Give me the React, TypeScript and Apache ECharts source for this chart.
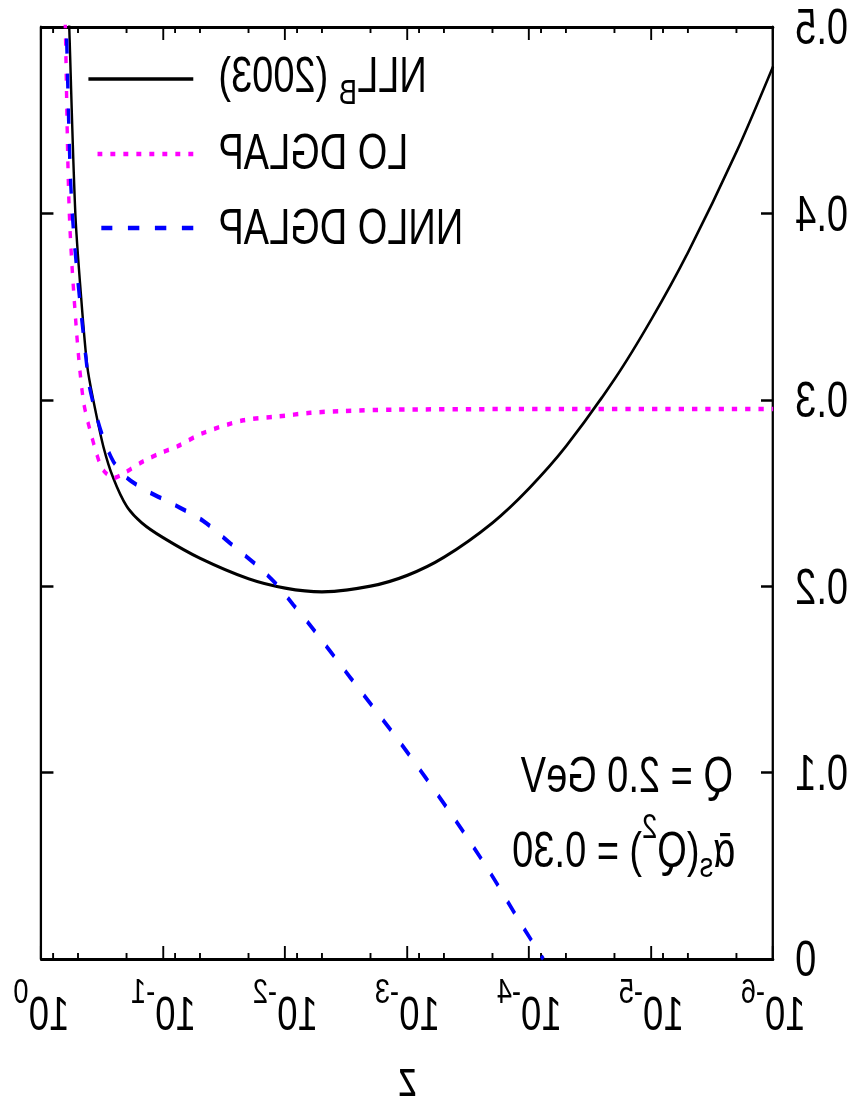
import React, { useEffect, useRef } from 'react';
import * as echarts from 'echarts';

const FONT = '"Liberation Sans", Arial, Helvetica, sans-serif';

// Horizontal squeeze and page mirroring of the drawn figure
const SQUEEZE = 0.76;
const PAGE_W = 856;
const CHART_W = 1126;
const CHART_H = 1109;

// NLL_B (2003)
const nllZ = [0.624, 0.59, 0.526, 0.47, 0.42, 0.375, 0.31, 0.257, 0.2, 0.15, 0.1, 0.05, 0.02, 0.01, 5e-3, 2e-3, 1e-3, 5e-4, 2e-4, 1e-4, 5e-5, 2e-5, 1e-5, 5e-6, 2e-6, 1e-6];
const nllVal = [0.55, 0.5, 0.4, 0.354, 0.318, 0.3, 0.275, 0.258, 0.243, 0.234, 0.226, 0.215, 0.204, 0.199, 0.197, 0.2, 0.2058, 0.2155, 0.234, 0.2526, 0.275, 0.311, 0.343, 0.379, 0.433, 0.479];

// LO DGLAP
const loZ = [0.66, 0.635, 0.589, 0.516, 0.453, 0.396, 0.328, 0.299, 0.257, 0.205, 0.146, 0.1, 0.0767, 0.0479, 0.0221, 0.0116, 6.24e-3, 3.35e-3, 1.3e-3, 1.74e-4, 1e-6];
const loVal = [0.55, 0.5, 0.4, 0.338, 0.3, 0.283, 0.265, 0.261, 0.258, 0.261, 0.267, 0.272, 0.275, 0.282, 0.289, 0.291, 0.293, 0.294, 0.2947, 0.295, 0.295];

// NNLO DGLAP
const nnloZ = [0.66, 0.624, 0.557, 0.412, 0.375, 0.316, 0.257, 0.197, 0.135, 0.0828, 0.047, 0.0282, 0.017, 0.0116, 8.59e-3, 6.24e-3, 2.93e-3, 1.14e-3, 4.45e-4, 2.17e-4, 1.19e-4, 7.67e-5];
const nnloVal = [0.55, 0.5, 0.4, 0.311, 0.298, 0.281, 0.267, 0.258, 0.251, 0.244, 0.235, 0.223, 0.211, 0.2005, 0.19, 0.179, 0.151, 0.116, 0.0786, 0.048, 0.0198, 0.0];

// minor ticks at 2, 5 and 8 of every decade
const minorTicks = [
  2e-6, 5e-6, 8e-6, 2e-5, 5e-5, 8e-5, 2e-4, 5e-4, 8e-4,
  2e-3, 5e-3, 8e-3, 2e-2, 5e-2, 8e-2, 0.2, 0.5, 0.8,
];

const yTicks = ['0', '0.1', '0.2', '0.3', '0.4', '0.5'];

const pairs = (xs: number[], ys: number[]) => xs.map((x, i) => [x, ys[i]]);

export default function App() {
  const ref = useRef<HTMLDivElement>(null);

  useEffect(() => {
    if (!ref.current) return;
    const chart = echarts.init(ref.current, null, { renderer: 'svg' });

    const axisLine = { show: true, onZero: false, lineStyle: { color: '#000', width: 3 } };
    const xTick = { show: true, inside: true, length: 13, lineStyle: { color: '#000', width: 2.5 } };
    const yTick = { show: true, inside: true, length: 16, lineStyle: { color: '#000', width: 2.5 } };

    const option: any = {
      animation: false,
      backgroundColor: '#fff',
      textStyle: { fontFamily: FONT },
      grid: { left: 109, right: 54, top: 27, bottom: 147 },
      xAxis: [
        {
          type: 'log',
          logBase: 10,
          min: 1e-6,
          max: 1,
          position: 'bottom',
          axisLine,
          axisTick: xTick,
          splitLine: { show: false },
          axisLabel: {
            margin: 14,
            color: '#000',
            fontFamily: FONT,
            showMinLabel: true,
            showMaxLabel: true,
            formatter: (v: number) => `{b|10}{s|${Math.round(Math.log10(v))}}`,
            rich: {
              b: { fontSize: 48, fontFamily: FONT, color: '#000', padding: [16, 0, 0, 0], verticalAlign: 'top' },
              s: { fontSize: 36, fontFamily: FONT, color: '#000', verticalAlign: 'top' },
            },
          },
          name: 'z',
          nameLocation: 'middle',
          nameGap: 95,
          nameTextStyle: { fontSize: 50, color: '#000', fontFamily: FONT },
        },
        {
          type: 'log',
          logBase: 10,
          min: 1e-6,
          max: 1,
          position: 'top',
          axisLine,
          axisTick: xTick,
          axisLabel: { show: false },
          splitLine: { show: false },
        },
      ],
      yAxis: [
        {
          type: 'value',
          min: 0,
          max: 0.5,
          interval: 0.1,
          position: 'left',
          axisLine,
          axisTick: yTick,
          splitLine: { show: false },
          axisLabel: {
            margin: 29,
            fontSize: 50,
            color: '#000',
            fontFamily: FONT,
            formatter: (v: number) => yTicks[Math.round(v * 10)],
          },
        },
        {
          type: 'value',
          min: 0,
          max: 0.5,
          interval: 0.1,
          position: 'right',
          axisLine,
          axisTick: yTick,
          axisLabel: { show: false },
          splitLine: { show: false },
        },
      ],
      series: [
        {
          name: 'NLL_B (2003)',
          type: 'line',
          data: pairs(nllZ, nllVal),
          showSymbol: false,
          smooth: 0.3,
          lineStyle: { color: '#000', width: 3.2 },
        },
        {
          name: 'LO DGLAP',
          type: 'line',
          data: pairs(loZ, loVal),
          showSymbol: false,
          smooth: 0.3,
          lineStyle: { color: '#ff00ff', width: 4.5, type: [7, 10.5], cap: 'butt' },
        },
        {
          name: 'NNLO DGLAP',
          type: 'line',
          data: pairs(nnloZ, nnloVal),
          showSymbol: false,
          smooth: 0.3,
          lineStyle: { color: '#0000ff', width: 4.5, type: [15, 20], cap: 'butt' },
        },
        {
          type: 'custom',
          silent: true,
          clip: false,
          data: minorTicks.map((v) => [v, 0]),
          renderItem: (params: any, api: any) => {
            const x = api.coord([api.value(0), 0])[0];
            const cs = params.coordSys;
            const st = { stroke: '#000', lineWidth: 2.5 };
            return {
              type: 'group',
              children: [
                { type: 'line', shape: { x1: x, y1: cs.y + cs.height, x2: x, y2: cs.y + cs.height - 6 }, style: st },
                { type: 'line', shape: { x1: x, y1: cs.y, x2: x, y2: cs.y + 6 }, style: st },
              ],
            };
          },
        },
      ],
      graphic: [
        // key
        {
          type: 'text',
          x: 839,
          y: 50,
          style: {
            text: '{n|NLL}{sub|B}{n| (2003)}',
            align: 'right',
            verticalAlign: 'top',
            fill: '#000',
            rich: {
              n: { fontSize: 50, fontFamily: FONT, fill: '#000', verticalAlign: 'top' },
              sub: { fontSize: 36, fontFamily: FONT, fill: '#000', verticalAlign: 'top', padding: [24, 0, 0, 0] },
            },
          },
        },
        { type: 'line', shape: { x1: 872, y1: 79, x2: 1010, y2: 79 }, style: { stroke: '#000', lineWidth: 3.5 } },
        {
          type: 'text',
          x: 839,
          y: 152,
          style: { text: 'LO DGLAP', fontSize: 50, fontFamily: FONT, fill: '#000', align: 'right', verticalAlign: 'middle' },
        },
        {
          type: 'line',
          shape: { x1: 872, y1: 154, x2: 998, y2: 154 },
          style: { stroke: '#ff00ff', lineWidth: 4.5, lineDash: [6.5, 10.6], lineCap: 'butt' },
        },
        {
          type: 'text',
          x: 839,
          y: 227,
          style: { text: 'NNLO DGLAP', fontSize: 50, fontFamily: FONT, fill: '#000', align: 'right', verticalAlign: 'middle' },
        },
        {
          type: 'line',
          shape: { x1: 872, y1: 228, x2: 993, y2: 228 },
          style: { stroke: '#0000ff', lineWidth: 4.5, lineDash: [15, 20.5], lineCap: 'butt' },
        },
        // run parameters
        {
          type: 'text',
          x: 162,
          y: 775,
          style: { text: 'Q = 2.0 GeV', fontSize: 50, fontFamily: FONT, fill: '#000', align: 'left', verticalAlign: 'middle' },
        },
        {
          type: 'text',
          x: 159,
          y: 808,
          style: {
            text: '{t|\u1FB1}{sub|s}{t|(Q}{sup|2}{t|) = 0.30}',
            align: 'left',
            verticalAlign: 'top',
            fill: '#000',
            rich: {
              t: { fontSize: 50, fontFamily: FONT, fill: '#000', verticalAlign: 'top', padding: [17, 0, 0, 0] },
              sup: { fontSize: 36, fontFamily: FONT, fill: '#000', verticalAlign: 'top' },
              sub: { fontSize: 36, fontFamily: FONT, fill: '#000', verticalAlign: 'top', padding: [39, 0, 0, 0] },
            },
          },
        },
      ],
    };

    chart.setOption(option);
    return () => chart.dispose();
  }, []);

  return (
    <div
      ref={ref}
      style={{
        position: 'fixed',
        left: 0,
        top: 0,
        width: CHART_W,
        height: CHART_H,
        transformOrigin: '0 0',
        transform: `matrix(${-SQUEEZE}, 0, 0, 1, ${PAGE_W}, 0)`,
        background: '#fff',
      }}
    />
  );
}
